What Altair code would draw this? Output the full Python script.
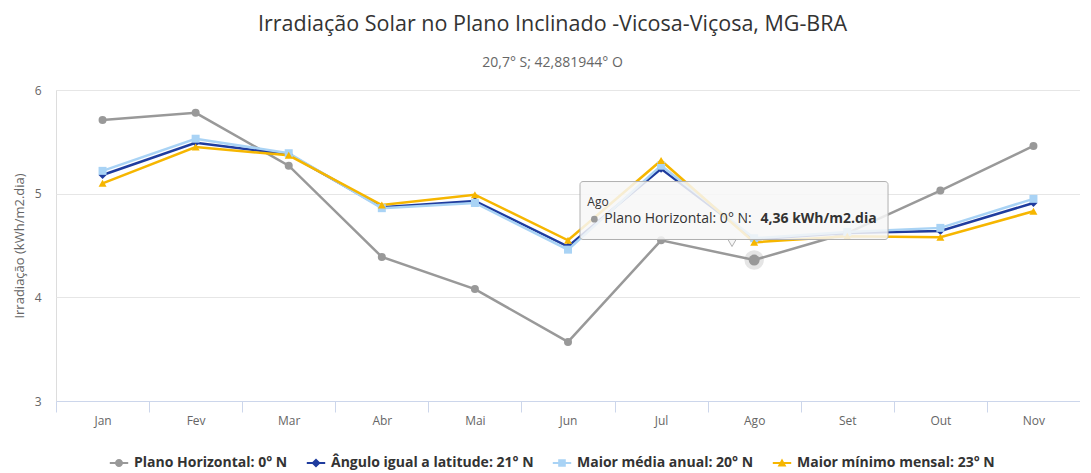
import altair as alt
import pandas as pd

# ---------------- data ----------------
months = ["Jan", "Fev", "Mar", "Abr", "Mai", "Jun", "Jul", "Ago", "Set", "Out", "Nov"]
series_names = [
    "Plano Horizontal: 0° N",
    "Ângulo igual a latitude: 21° N",
    "Maior média anual: 20° N",
    "Maior mínimo mensal: 23° N",
]
plano_horizontal = [5.71, 5.78, 5.27, 4.39, 4.08, 3.57, 4.55, 4.36, 4.62, 5.03, 5.46]
angulo_latitude = [5.18, 5.49, 5.38, 4.87, 4.93, 4.49, 5.24, 4.56, 4.62, 4.64, 4.91]
maior_media = [5.22, 5.53, 5.39, 4.86, 4.91, 4.46, 5.27, 4.57, 4.63, 4.67, 4.95]
maior_minimo = [5.10, 5.45, 5.37, 4.89, 4.99, 4.55, 5.32, 4.53, 4.59, 4.58, 4.83]
y_ticks = [3, 4, 5, 6]

# tooltip annotation (hovered point: Ago, Plano Horizontal)
tip_month = "Ago"
tip_header = "Ago"
tip_label = "Plano Horizontal: 0° N: "
tip_value = "4,36 kWh/m2.dia"

# ---------------- styles ----------------
colors = ["#999999", "#1f3c9e", "#a9d3f5", "#f6b600"]
point_shapes = ["circle", "diamond", "square", "triangle-up"]
legend_paths = [
    "M-2.3,-0.25H2.3V0.25H-2.3Z M-1,0A1,1 0 1,1 1,0A1,1 0 1,1 -1,0Z",
    "M-2.3,-0.25H2.3V0.25H-2.3Z M0,-1.15L1.15,0L0,1.15L-1.15,0Z",
    "M-2.3,-0.25H2.3V0.25H-2.3Z M-0.95,-0.95H0.95V0.95H-0.95Z",
    "M-2.3,-0.25H2.3V0.25H-2.3Z M0,-1.1L1.1,0.85L-1.1,0.85Z",
]
FONT = "Open Sans"
PLOT_W = 1024
PLOT_H = 311

# tooltip box geometry in data units
box_x = [5.129, 8.438]
box_y = [4.558, 5.117]
arrow_xy = [6.762, 4.525]
header_xy = [5.208, 4.918]
dot_xy = [5.283, 4.754]
label_xy = [5.39, 4.754]
value_xy = [8.316, 4.754]

rows = []
for name, vals in zip(series_names, [plano_horizontal, angulo_latitude, maior_media, maior_minimo]):
    for i, (m, v) in enumerate(zip(months, vals)):
        rows.append({"idx": i, "mes": m, "serie": name, "valor": v})
df = pd.DataFrame(rows)

label_expr = "[" + ",".join("'%s'" % m for m in months) + "][round(datum.value + 0.5)]"

x_scale = alt.Scale(domain=[-0.5, len(months) - 0.5], nice=False, zero=False)
y_scale = alt.Scale(domain=[3, 6], nice=False, zero=False)
x_axis = alt.Axis(
    values=[i - 0.5 for i in range(len(months))],
    labelExpr=label_expr,
    labelOffset=PLOT_W / len(months) / 2,
    labelFlush=False,
    labelOverlap=False,
    labelBound=False,
    grid=False,
    domainColor="#ccd6eb",
    tickColor="#ccd6eb",
    tickSize=11,
    labelColor="#666666",
    labelFontSize=12,
    labelFont=FONT,
    labelPadding=3,
    title=None,
)
y_axis = alt.Axis(
    values=y_ticks,
    grid=True,
    gridColor="#e6e6e6",
    domain=False,
    ticks=False,
    labelColor="#666666",
    labelFontSize=12,
    labelFont=FONT,
    labelPadding=15,
    title="Irradiação (kWh/m2.dia)",
    titleColor="#666666",
    titleFontSize=13,
    titleFont=FONT,
    titleFontWeight="normal",
    titlePadding=8,
)


def X(field):
    return alt.X(field, type="quantitative", scale=x_scale, axis=x_axis)


def Y(field):
    return alt.Y(field, type="quantitative", scale=y_scale, axis=y_axis)


color_scale = alt.Scale(domain=series_names, range=colors)
legend_cfg = alt.Legend(
    title=None, orient="none", direction="horizontal", legendX=56, legendY=366,
    labelFontSize=14, labelFontWeight="bold", labelColor="#333333",
    labelFont=FONT, labelLimit=0, symbolSize=64, symbolStrokeWidth=0, symbolOpacity=1,
    labelOffset=8, columnPadding=18,
)

base = alt.Chart(df)

# legend-only layer (no rows drawn, explicit domains give the entries)
legend_layer = (
    base.transform_filter("datum.valor < 0")
    .mark_point(filled=True, size=64)
    .encode(
        x=X("idx"), y=Y("valor"),
        color=alt.Color("serie:N", scale=color_scale, legend=legend_cfg),
        shape=alt.Shape("serie:N", scale=alt.Scale(domain=series_names, range=legend_paths), legend=legend_cfg),
    )
)

lines = base.mark_line(strokeWidth=2.5).encode(
    x=X("idx"), y=Y("valor"),
    color=alt.Color("serie:N", scale=color_scale),
)

point_layers = []
for name, shp in zip(series_names, point_shapes):
    point_layers.append(
        base.transform_filter(alt.datum.serie == name)
        .mark_point(filled=True, shape=shp, size=64, opacity=1)
        .encode(x=X("idx"), y=Y("valor"), color=alt.Color("serie:N", scale=color_scale))
    )

# hovered point halo
hover = base.transform_filter(
    (alt.datum.serie == series_names[0]) & (alt.datum.mes == tip_month)
)
halo = hover.mark_point(filled=True, shape="circle", size=380, color="#999999", opacity=0.25).encode(x=X("idx"), y=Y("valor"))
hover_pt = hover.mark_point(filled=True, shape="circle", size=120, color="#999999", opacity=1).encode(x=X("idx"), y=Y("valor"))

tip_df = pd.DataFrame([{
    "x1": box_x[0], "x2": box_x[1], "y1": box_y[0], "y2": box_y[1],
    "ax": arrow_xy[0], "ay": arrow_xy[1],
    "hx": header_xy[0], "hy": header_xy[1],
    "px": dot_xy[0], "py": dot_xy[1],
    "lx": label_xy[0], "ly": label_xy[1],
    "vx": value_xy[0], "vy": value_xy[1],
    "header": tip_header, "label": tip_label, "value": tip_value,
}])
tip = alt.Chart(tip_df)

arrow = tip.mark_point(shape="triangle-down", size=70, filled=True, fill="#f7f7f7", stroke="#b0b0b0", strokeWidth=1, opacity=1).encode(
    x=X("ax"), y=Y("ay"))
box = tip.mark_rect(fill="#f7f7f7", fillOpacity=0.85, stroke="#b0b0b0", strokeWidth=1, cornerRadius=3).encode(
    x=X("x1"), x2="x2:Q", y=Y("y1"), y2="y2:Q")
header = tip.mark_text(align="left", baseline="middle", fontSize=12, font=FONT, color="#333333").encode(
    x=X("hx"), y=Y("hy"), text="header:N")
dot = tip.mark_point(shape="circle", size=45, filled=True, color="#999999", opacity=1).encode(
    x=X("px"), y=Y("py"))
label = tip.mark_text(align="left", baseline="middle", fontSize=14, font=FONT, color="#333333").encode(
    x=X("lx"), y=Y("ly"), text="label:N")
value = tip.mark_text(align="right", baseline="middle", fontSize=14, font=FONT, fontWeight="bold", color="#333333").encode(
    x=X("vx"), y=Y("vy"), text="value:N")

chart = alt.layer(
    legend_layer, lines, *point_layers, halo, hover_pt, arrow, box, header, dot, label, value
).properties(
    width=PLOT_W,
    height=PLOT_H,
    title=alt.TitleParams(
        text="Irradiação Solar no Plano Inclinado -Vicosa-Viçosa, MG-BRA",
        subtitle="20,7° S; 42,881944° O",
        fontSize=21.5, font=FONT, fontWeight="normal", color="#333333",
        subtitleFontSize=14, subtitleFont=FONT, subtitleColor="#666666",
        subtitlePadding=21, anchor="middle", frame="bounds", offset=14, dx=6,
    ),
    padding={"left": 5, "top": 5, "right": 0, "bottom": 0},
).configure_view(strokeWidth=0).configure(background="white")

chart.save("out.html", embed_options={"renderer": "svg", "actions": False})
